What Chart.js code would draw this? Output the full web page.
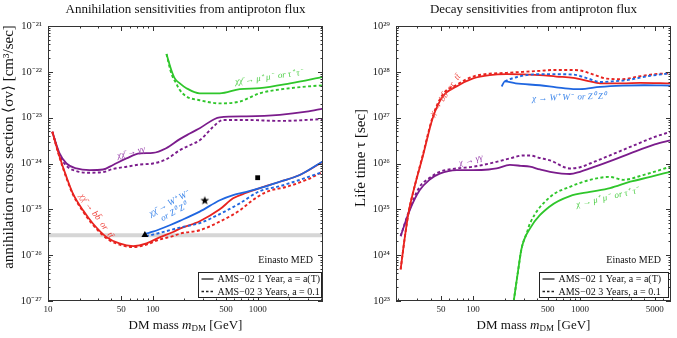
<!DOCTYPE html>
<html>
<head>
<meta charset="utf-8">
<script src="https://cdn.jsdelivr.net/npm/chart.js@4.4.1/dist/chart.umd.min.js"></script>
<style>
  html, body { margin: 0; padding: 0; background: #fff; }
  #wrap { position: relative; width: 677px; height: 338px; }
  canvas { position: absolute; top: 0; }
</style>
</head>
<body>
<div id="wrap">
  <canvas id="annChart" width="338" height="338" style="left:0"></canvas>
  <canvas id="decChart" width="339" height="338" style="left:338px"></canvas>
</div>
<script>
// ---------- Annihilation panel data (mass in GeV, <sigma v> in cm^3/s) ----------
const annBbMass    = [11, 12.9, 15, 17.3, 21.6, 26.8, 36, 48, 65, 87, 116, 156, 181, 280, 435, 583, 782, 1047, 1625, 2520, 4200];
const annBb1Year   = [4.9e-24, 1.4e-24, 5.1e-25, 2.2e-25, 9.5e-26, 4.9e-26, 2.5e-26, 1.8e-26, 1.58e-26, 1.8e-26, 2.45e-26, 3.2e-26, 3.8e-26, 5.5e-26, 1.0e-25, 1.74e-25, 2.3e-25, 2.9e-25, 4.0e-25, 5.6e-25, 1.1e-24];
const annBb3Mass   = [11, 12.9, 15, 17.3, 21.6, 26.8, 36, 48, 65, 87, 116, 156, 181, 280, 435, 675, 903, 1213, 1884, 2925, 4200];
const annBb3Years  = [4.9e-24, 1.35e-24, 4.8e-25, 2.1e-25, 8.9e-26, 4.6e-26, 2.35e-26, 1.7e-26, 1.5e-26, 1.7e-26, 2.2e-26, 2.6e-26, 2.95e-26, 3.5e-26, 5.4e-26, 9.5e-26, 1.6e-25, 2.4e-25, 3.1e-25, 4.4e-25, 6.6e-25];

const annWwMass    = [86, 100, 145, 181, 280, 435, 583, 782, 1047, 1625, 2520, 4200];
const annWw1Year   = [2.95e-26, 3.25e-26, 4.5e-26, 5.6e-26, 8.9e-26, 1.58e-25, 2.05e-25, 2.4e-25, 2.9e-25, 4.0e-25, 5.6e-25, 1.12e-24];
const annWw3Mass   = [86, 100, 181, 280, 435, 675, 1047, 1625, 2520, 4200];
const annWw3Years  = [2.6e-26, 2.8e-26, 4.0e-26, 5.0e-26, 7.9e-26, 1.35e-25, 2.5e-25, 3.2e-25, 4.4e-25, 6.6e-25];

const annGgMass    = [11, 12.9, 15, 18.7, 25, 33.5, 41.7, 56, 75, 100, 134, 181, 225, 280, 435, 782, 1625, 2925, 4200];
const annGg1Year   = [4.9e-24, 1.66e-24, 1.0e-24, 7.8e-25, 7.2e-25, 7.4e-25, 9.3e-25, 1.29e-24, 1.66e-24, 1.7e-24, 2.15e-24, 3.4e-24, 4.5e-24, 5.9e-24, 1.02e-23, 1.07e-23, 1.15e-23, 1.35e-23, 1.58e-23];
const annGg3Mass   = [11, 12.9, 15, 18.7, 25, 33.5, 41.7, 56, 75, 100, 134, 181, 225, 280, 376, 466, 782, 1625, 4200];
const annGg3Years  = [4.9e-24, 1.51e-24, 8.9e-25, 6.8e-25, 6.3e-25, 6.5e-25, 7.6e-25, 8.5e-25, 9.5e-25, 1.0e-24, 1.23e-24, 1.95e-24, 2.5e-24, 3.2e-24, 6.3e-24, 8.9e-24, 8.9e-24, 8.5e-24, 9.3e-24];

const annMuMass    = [135, 150, 162, 181, 209, 280, 435, 675, 1047, 2040, 4200];
const annMu1Year   = [2.45e-22, 1.1e-22, 7.2e-23, 5.6e-23, 4.4e-23, 3.4e-23, 3.4e-23, 4.2e-23, 4.4e-23, 5.6e-23, 7.8e-23];
const annMu3Mass   = [135, 150, 167, 181, 209, 280, 435, 675, 1047, 2040, 4200];
const annMu3Years  = [2.45e-22, 9.3e-23, 5.6e-23, 4.0e-23, 2.9e-23, 2.4e-23, 2.05e-23, 2.25e-23, 3.4e-23, 4.4e-23, 5.1e-23];

const thermalSigma = 2.73e-26;
const markerMass   = [84, 313, 1000];
const markerSigma  = [2.75e-26, 1.55e-25, 4.9e-25];

// ---------- Decay panel data (mass in GeV, lifetime in s) ----------
const decBbMass    = [21, 23, 25, 28, 34, 42, 52, 70, 100, 143, 205, 420, 600, 865, 1200, 1540, 2500, 3650, 7000];
const decBb1Year   = [4.9e23, 2.5e24, 8.9e24, 2.8e25, 1.5e26, 1.0e27, 2.9e27, 4.8e27, 7.2e27, 8.5e27, 8.9e27, 8.5e27, 7.9e27, 7.4e27, 6.3e27, 5.6e27, 5.6e27, 5.75e27, 5.6e27];
const decBb3Mass   = [21, 23, 25, 28, 34, 42, 52, 70, 100, 143, 205, 293, 422, 564, 800, 1000, 1300, 1780, 2500, 3500, 5000, 7000];
const decBb3Years  = [4.9e23, 2.5e24, 8.9e24, 2.8e25, 1.6e26, 1.07e27, 3.2e27, 5.2e27, 7.9e27, 9.1e27, 9.5e27, 1.0e28, 1.05e28, 1.1e28, 1.1e28, 1.07e28, 8.9e27, 7.1e27, 6.9e27, 7.9e27, 8.9e27, 9.3e27];

const decWwMass    = [185, 198, 250, 422, 600, 865, 1000, 1540, 2500, 4000, 7000];
const decWw1Year   = [4.8e27, 6.2e27, 5.6e27, 5.1e27, 4.6e27, 4.2e27, 4.2e27, 4.7e27, 5.0e27, 5.1e27, 5.0e27];
const decWw3Mass   = [198, 220, 316, 500, 865, 1200, 1540, 2000, 2750, 4400, 7000];
const decWw3Years  = [6.2e27, 6.9e27, 8.5e27, 8.9e27, 8.7e27, 7.1e27, 6.0e27, 6.2e27, 6.6e27, 8.1e27, 9.3e27];

const decGgMass    = [21, 25.5, 31.6, 39, 48.7, 70, 100, 140, 166, 221, 280, 340, 422, 525, 805, 1000, 1240, 2000, 2950, 5000, 7000];
const decGg1Year   = [2.6e24, 9.5e24, 2.6e25, 4.4e25, 6.0e25, 7.2e25, 7.2e25, 7.4e25, 7.8e25, 9.3e25, 8.9e25, 8.5e25, 7.4e25, 6.6e25, 5.9e25, 6.6e25, 7.8e25, 1.17e26, 1.66e26, 2.6e26, 3.2e26];
const decGg3Mass   = [21, 25.5, 31.6, 39, 48.7, 70, 100, 143, 221, 293, 340, 422, 525, 805, 1000, 1240, 2000, 2950, 5000, 7000];
const decGg3Years  = [2.6e24, 1.0e25, 3.1e25, 4.8e25, 6.6e25, 7.8e25, 8.5e25, 1.0e26, 1.29e26, 1.5e26, 1.5e26, 1.32e26, 1.17e26, 7.8e25, 8.3e25, 1.0e26, 1.58e26, 2.3e26, 3.8e26, 4.9e26];

const decMuMass    = [240, 264, 284, 340, 525, 805, 1240, 1910, 2950, 4550, 7000];
const decMu1Year   = [1.0e23, 4.7e23, 1.4e24, 3.8e24, 1.17e25, 1.95e25, 2.4e25, 2.9e25, 4.0e25, 5.1e25, 6.6e25];
const decMu3Mass   = [240, 264, 284, 320, 340, 525, 805, 1240, 1910, 2540, 3900, 7000];
const decMu3Years  = [1.0e23, 4.7e23, 1.4e24, 3.2e24, 4.9e24, 1.86e25, 3.1e25, 4.4e25, 5.1e25, 4.4e25, 5.6e25, 8.5e25];

// ---------- Axes ----------
const annXRange = [10, 4200];
const annYRange = [1e-27, 1e-21];
const annXLabels = [10, 50, 100, 500, 1000];
const annXMinor  = [20, 30, 40, 60, 70, 80, 90, 200, 300, 400, 600, 700, 800, 900, 2000, 3000, 4000];
const decXRange = [19, 7100];
const decYRange = [1e23, 1e29];
const decXLabels = [50, 100, 500, 1000, 5000];
const decXMinor  = [20, 30, 40, 60, 70, 80, 90, 200, 300, 400, 600, 700, 800, 900, 2000, 3000, 4000, 6000, 7000];

// ---------- Colors ----------
const RED = '#e8231f', BLUE = '#1f66e0', GREEN = '#2fc62b', PURPLE = '#7b1c8c';
const RED_T = '#ef4a44', BLUE_T = '#3d86ea', GREEN_T = '#4fcf48', PURPLE_T = '#9a45ad';
const SERIF = '"Liberation Serif", "Times New Roman", serif';

const SUP = { '-': '\u207B', '0': '\u2070', '1': '\u00B9', '2': '\u00B2', '3': '\u00B3', '4': '\u2074', '5': '\u2075', '6': '\u2076', '7': '\u2077', '8': '\u2078', '9': '\u2079' };
const tenPow = v => '10' + String(Math.round(Math.log10(v))).split('').map(c => SUP[c]).join('');

function curve(mass, vals, color, dashed) {
    return {
        data: mass.map((m, i) => ({ x: m, y: vals[i] })),
        borderColor: color,
        borderWidth: dashed ? 1.9 : 1.8,
        borderDash: dashed ? [3, 2.4] : [],
        pointRadius: 0,
        fill: false,
        cubicInterpolationMode: 'monotone'
    };
}

function starImage(r) {
    const c = document.createElement('canvas');
    const s = Math.ceil(2 * r + 2);
    c.width = c.height = s;
    const g = c.getContext('2d');
    g.beginPath();
    for (let i = 0; i < 10; i++) {
        const rad = i % 2 ? r * 0.42 : r;
        const a = -Math.PI / 2 + i * Math.PI / 5;
        g.lineTo(s / 2 + rad * Math.cos(a), s / 2 + rad * Math.sin(a));
    }
    g.closePath();
    g.fillStyle = '#000';
    g.fill();
    return c;
}

// ---------- Frame, ticks, titles, notes, legend ----------
const panelDecor = {
    id: 'panelDecor',
    afterDatasetsDraw(chart, args, o) {
        const { ctx, chartArea: a, scales: { x, y } } = chart;
        ctx.save();
        ctx.strokeStyle = '#333';
        ctx.lineWidth = 1;
        const seg = (x1, y1, x2, y2) => { ctx.beginPath(); ctx.moveTo(x1, y1); ctx.lineTo(x2, y2); ctx.stroke(); };

        // inward tick marks on all four sides
        const xt = (v, len) => { const p = Math.round(x.getPixelForValue(v)) + 0.5; seg(p, a.bottom, p, a.bottom - len); seg(p, a.top, p, a.top + len); };
        o.xMajor.forEach(v => xt(v, 5));
        o.xMinor.forEach(v => xt(v, 2.5));
        const yt = (v, len) => { const p = Math.round(y.getPixelForValue(v)) + 0.5; seg(a.left, p, a.left + len, p); seg(a.right, p, a.right - len, p); };
        for (let e = Math.log10(y.min); e <= Math.log10(y.max); e++) {
            yt(Math.pow(10, e), 5);
            if (e < Math.log10(y.max)) for (let k = 2; k < 10; k++) yt(k * Math.pow(10, e), 2.5);
        }
        ctx.strokeRect(a.left + 0.5, a.top + 0.5, a.right - a.left - 1, a.bottom - a.top - 1);

        ctx.fillStyle = '#111';
        ctx.textBaseline = 'middle';
        ctx.textAlign = 'center';
        const cx = (a.left + a.right) / 2;

        // title
        ctx.font = '13px ' + SERIF;
        ctx.fillText(o.title, cx, 10);

        // x title with italic m and subscript DM
        const parts = [['DM mass ', '13px ' + SERIF, 0], ['m', 'italic 13px ' + SERIF, 0], ['DM', '9px ' + SERIF, 3], [' [GeV]', '13px ' + SERIF, 0]];
        let w = 0;
        parts.forEach(p => { ctx.font = p[1]; w += ctx.measureText(p[0]).width; });
        let px = cx - w / 2;
        ctx.textAlign = 'left';
        parts.forEach(p => { ctx.font = p[1]; ctx.fillText(p[0], px, 326 + p[2]); px += ctx.measureText(p[0]).width; });

        // y title
        ctx.save();
        ctx.translate(o.yTitleX, o.yTitleY);
        ctx.rotate(-Math.PI / 2);
        ctx.textAlign = 'center';
        ctx.font = '15px ' + SERIF;
        ctx.fillText(o.yTitle, 0, 0);
        ctx.restore();

        // curve notes
        o.notes.forEach(n => {
            ctx.save();
            ctx.translate(x.getPixelForValue(n.x), y.getPixelForValue(n.y));
            ctx.rotate(n.angle * Math.PI / 180);
            ctx.fillStyle = n.color;
            ctx.font = 'italic 9px ' + SERIF;
            ctx.textAlign = 'center';
            n.lines.forEach((t, i) => ctx.fillText(t, 0, (i - (n.lines.length - 1) / 2) * 10));
            ctx.restore();
        });

        // profile name
        ctx.fillStyle = '#111';
        ctx.font = '10px ' + SERIF;
        ctx.textAlign = 'right';
        ctx.fillText('Einasto MED', a.right - 10, a.bottom - 41);

        // legend box
        const bw = o.legendWidth, bh = 25;
        const bx = Math.round(a.right - o.legendRight - bw) + 0.5, by = Math.round(a.bottom - 4 - bh) + 0.5;
        ctx.fillStyle = '#fff';
        ctx.fillRect(bx, by, bw, bh);
        ctx.strokeStyle = '#222';
        ctx.strokeRect(bx, by, bw, bh);
        ctx.lineWidth = 1.3;
        seg(bx + 3, by + 6.5, bx + 15, by + 6.5);
        ctx.setLineDash([2.5, 2]);
        seg(bx + 3, by + 19, bx + 16, by + 19);
        ctx.setLineDash([]);
        ctx.fillStyle = '#111';
        ctx.textAlign = 'left';
        ctx.fillText('AMS\u221202 1 Year, a = a(T)', bx + 19, by + 7);
        ctx.fillText('AMS\u221202 3 Years, a = 0.1', bx + 19, by + 19.5);
        ctx.restore();
    }
};

function makePanel(id, cfg) {
    const xFont = { family: SERIF, size: 9 };
    const yFont = { family: SERIF, size: 10.5 };
    return new Chart(document.getElementById(id), {
        type: 'line',
        data: { datasets: cfg.datasets },
        options: {
            responsive: false,
            animation: false,
            events: [],
            layout: { padding: { left: 0, right: cfg.padRight, top: 26, bottom: 0 } },
            scales: {
                x: {
                    type: 'logarithmic', min: cfg.xRange[0], max: cfg.xRange[1],
                    afterBuildTicks: s => { s.ticks = cfg.xLabels.map(v => ({ value: v })); },
                    afterFit: s => { s.height = 37; },
                    grid: { display: false, drawTicks: false },
                    border: { display: false },
                    ticks: { font: xFont, color: '#222', padding: 3, maxRotation: 0, autoSkip: false, callback: v => String(v) }
                },
                y: {
                    type: 'logarithmic', min: cfg.yRange[0], max: cfg.yRange[1],
                    afterBuildTicks: s => {
                        const t = [];
                        for (let e = Math.log10(cfg.yRange[0]); e <= Math.log10(cfg.yRange[1]); e++) t.push({ value: Math.pow(10, e) });
                        s.ticks = t;
                    },
                    afterFit: s => { s.width = cfg.yWidth; },
                    grid: { display: false, drawTicks: false },
                    border: { display: false },
                    ticks: { font: yFont, color: '#222', padding: 6, callback: v => tenPow(v) }
                }
            },
            plugins: { legend: { display: false }, tooltip: { enabled: false }, panelDecor: cfg.decor }
        },
        plugins: [panelDecor]
    });
}

// ---------- Left: annihilation ----------
const thermalBand = {
    data: annXRange.map(m => ({ x: m, y: thermalSigma })),
    borderColor: '#d6d6d6', borderWidth: 4, pointRadius: 0, order: 10
};
const markers = {
    data: markerMass.map((m, i) => ({ x: m, y: markerSigma[i] })),
    showLine: false,
    pointStyle: ['triangle', starImage(4.6), 'rect'],
    pointRadius: [4, 5, 3.4],
    backgroundColor: '#000', borderColor: '#000', borderWidth: 0,
    order: -1
};

makePanel('annChart', {
    xRange: annXRange, yRange: annYRange, xLabels: annXLabels,
    padRight: 15, yWidth: 48,
    datasets: [
        markers,
        curve(annWwMass, annWw1Year, BLUE, false),
        curve(annWw3Mass, annWw3Years, BLUE, true),
        curve(annBbMass, annBb1Year, RED, false),
        curve(annBb3Mass, annBb3Years, RED, true),
        curve(annGgMass, annGg1Year, PURPLE, false),
        curve(annGg3Mass, annGg3Years, PURPLE, true),
        curve(annMuMass, annMu1Year, GREEN, false),
        curve(annMu3Mass, annMu3Years, GREEN, true),
        thermalBand
    ],
    decor: {
        title: 'Annihilation sensitivities from antiproton flux',
        yTitle: 'annihilation cross section \u27E8\u03C3v\u27E9 [cm\u00B3/sec]',
        yTitleX: 9, yTitleY: 147,
        xMajor: annXLabels, xMinor: annXMinor,
        legendWidth: 123, legendRight: 2,
        notes: [
            { lines: ['\u03C7\u03C7\u0304 \u2192 \u03BC\u207A \u03BC\u207B  or \u03C4\u207A \u03C4\u207B'], x: 1277, y: 7.6e-23, angle: -8, color: GREEN_T },
            { lines: ['\u03C7\u03C7\u0304 \u2192 \u03B3\u03B3'], x: 62, y: 1.74e-24, angle: -14, color: PURPLE_T },
            { lines: ['\u03C7\u03C7\u0304 \u2192 bb\u0304  or  tt\u0304'], x: 29, y: 7.2e-26, angle: 54, color: RED_T },
            { lines: ['\u03C7\u03C7\u0304 \u2192 W\u207A W\u207B', 'or Z\u2070 Z\u2070'], x: 151, y: 1.07e-25, angle: -28, color: BLUE_T }
        ]
    }
});

// ---------- Right: decay ----------
makePanel('decChart', {
    xRange: decXRange, yRange: decYRange, xLabels: decXLabels,
    padRight: 6, yWidth: 58,
    datasets: [
        curve(decWwMass, decWw1Year, BLUE, false),
        curve(decWw3Mass, decWw3Years, BLUE, true),
        curve(decBbMass, decBb1Year, RED, false),
        curve(decBb3Mass, decBb3Years, RED, true),
        curve(decGgMass, decGg1Year, PURPLE, false),
        curve(decGg3Mass, decGg3Years, PURPLE, true),
        curve(decMuMass, decMu1Year, GREEN, false),
        curve(decMu3Mass, decMu3Years, GREEN, true)
    ],
    decor: {
        title: 'Decay sensitivities from antiproton flux',
        yTitle: 'Life time \u03C4 [sec]',
        yTitleX: 23, yTitleY: 158,
        xMajor: decXLabels, xMinor: decXMinor,
        legendWidth: 129, legendRight: 3,
        notes: [
            { lines: ['\u03C7 \u2192 bb\u0304  or  tt\u0304'], x: 55, y: 3.1e27, angle: -56, color: RED_T },
            { lines: ['\u03C7 \u2192 W\u207A W\u207B  or Z\u2070 Z\u2070'], x: 789, y: 2.75e27, angle: -2, color: BLUE_T },
            { lines: ['\u03C7 \u2192 \u03B3\u03B3'], x: 95, y: 1.17e26, angle: -14, color: PURPLE_T },
            { lines: ['\u03C7 \u2192 \u03BC\u207A \u03BC\u207B  or \u03C4\u207A \u03C4\u207B'], x: 1811, y: 1.8e25, angle: -13, color: GREEN_T }
        ]
    }
});
</script>
</body>
</html>
